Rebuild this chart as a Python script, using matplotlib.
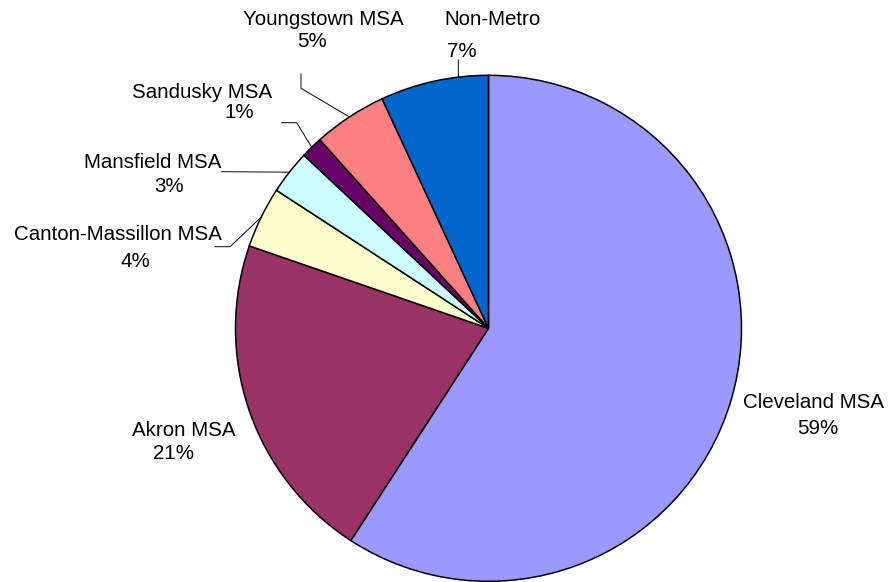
import numpy as np
import matplotlib
matplotlib.use('Agg')
from matplotlib import pyplot as plt

plt.rcParams['font.family'] = ['Liberation Sans', 'DejaVu Sans']

# data (clockwise from 12 o'clock)
regions = ['Cleveland MSA', 'Akron MSA', 'Canton-Massillon MSA', 'Mansfield MSA',
           'Sandusky MSA', 'Youngstown MSA', 'Non-Metro']
shares = [59.1, 21.1, 3.9, 2.8, 1.4, 4.7, 6.9]
colors = ['#9999FF', '#993366', '#FFFFCC', '#CCFFFF', '#660066', '#FF8080', '#0066CC']

W, H = 888, 582
cx, cy, R = 488.5, 328.3, 253   # pie centre / radius in pixels (from top)

# label layout in pixels from top-left: (name x, name baseline, pct x, pct baseline)
label_pos = {
    'Cleveland MSA': (813.5, 408, 817.5, 434),
    'Akron MSA': (183.5, 436, 173.5, 459),
    'Canton-Massillon MSA': (117.5, 240, 135, 267),
    'Mansfield MSA': (152.5, 168, 169, 192),
    'Sandusky MSA': (202, 98, 239, 118),
    'Youngstown MSA': (323.5, 25, 312, 47),
    'Non-Metro': (492, 25, 462, 57),
}
# leader elbows (pixels) and where along the wedge the line meets the rim
leaders = {
    'Canton-Massillon MSA': ([(215, 246.7), (230, 246.7)], 0.5),
    'Mansfield MSA': ([(221.7, 171.7)], 0.5),
    'Sandusky MSA': ([(281.7, 122.7), (296.7, 122.7)], 0.5),
    'Youngstown MSA': ([(301, 74), (301, 88.3)], 0.5),
    'Non-Metro': ([(458.3, 60)], 0.275),
}

fig = plt.figure(figsize=(W / 100, H / 100), dpi=100)
ax = fig.add_axes([0, 0, 1, 1])

wedges, _ = ax.pie(shares, colors=colors, startangle=90, counterclock=False,
                   center=(cx, H - cy), radius=R, frame=True,
                   wedgeprops=dict(edgecolor='black', linewidth=1.1))
ax.set_xlim(0, W)
ax.set_ylim(0, H)
ax.axis('off')

for name, val, w in zip(regions, shares, wedges):
    nx, ny, px, py = label_pos[name]
    ax.text(nx, H - ny, name, ha='center', va='baseline', fontsize=14.8)
    ax.text(px, H - py, '%d%%' % round(val), ha='center', va='baseline', fontsize=14.8)
    if name in leaders:
        pts, f = leaders[name]
        th = np.deg2rad(w.theta1 + f * (w.theta2 - w.theta1))
        ex = cx + R * np.cos(th)
        ey = (H - cy) + R * np.sin(th)
        xs = [p[0] for p in pts] + [ex]
        ys = [H - p[1] for p in pts] + [ey]
        ax.plot(xs, ys, color='black', linewidth=0.7)

plt.savefig('out.png', dpi=100)
